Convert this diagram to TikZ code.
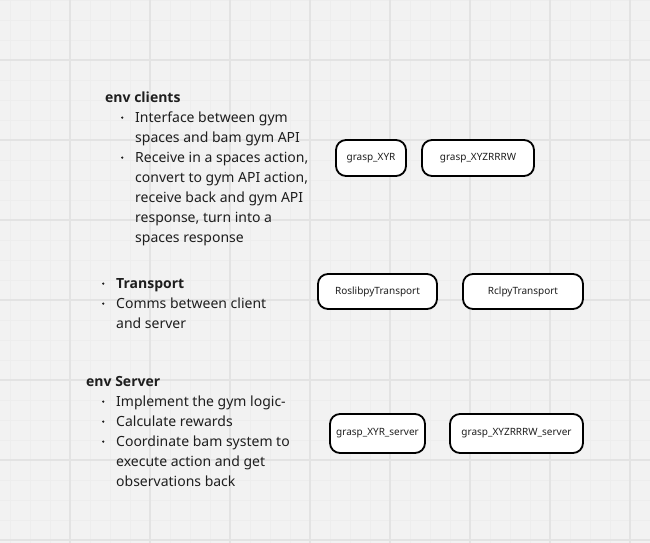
\documentclass[tikz,border=0pt]{standalone}
\usepackage{fontspec}
\setmainfont{Noto Sans}
\newfontfamily\hfont{Open Sans}
\definecolor{bgc}{HTML}{F2F2F2}
\definecolor{gridc}{HTML}{E3E3E3}
\definecolor{gridm}{HTML}{EDEDED}
\definecolor{txtc}{HTML}{1E1E1E}
\newcommand\bdot{\makebox[0pt][c]{\raisebox{3.2pt}{\tikz\fill[txtc] (0,0) circle (1.2pt);}}}
\newcommand\bline[1]{\hspace{#1}\bdot\hspace{13pt}}
\newcommand\contline[1]{\hspace{#1}\hspace{13pt}}
\newcommand\hd[1]{{\hfont\bfseries #1}}
\tikzset{
  block/.style={anchor=base west, inner sep=0pt, align=left, text=txtc,
    font=\fontsize{14}{20}\selectfont},
  box/.style={draw=black, line width=1.8pt, rounded corners=10pt, fill=white,
    text=txtc, font=\fontsize{10}{12}\selectfont, inner sep=0pt}
}
\begin{document}
\begin{tikzpicture}[x=1pt,y=-1pt]
\useasboundingbox (0,0) rectangle (650,543);
\fill[bgc] (0,0) rectangle (650,543);
% minor grid
\foreach \x in {10,30,...,650} \draw[gridm, line width=0.9pt] (\x,0) -- (\x,543);
\foreach \y in {0,20,...,543} \draw[gridm, line width=0.9pt] (0,\y) -- (650,\y);
% major grid
\foreach \x in {70,150,...,650} \draw[gridc, line width=1.3pt] (\x,0) -- (\x,543);
\foreach \y in {60,140,...,543} \draw[gridc, line width=1.3pt] (0,\y) -- (650,\y);

\node[block] (clients) at (105,242) {\hd{env clients}\\
\bline{17pt}Interface between gym\\
\contline{17pt}spaces and bam gym API\\
\bline{17pt}Receive in a spaces action,\\
\contline{17pt}convert to gym API action,\\
\contline{17pt}receive back and gym API\\
\contline{17pt}response, turn into a\\
\contline{17pt}spaces response};

\node[block] (transport) at (103,328) {\bline{0pt}\hd{Transport}\\
\bline{0pt}Comms between client\\
\contline{0pt}and server};

\node[block] (server) at (86,486) {\hd{env Server}\\
\bline{17pt}Implement the gym logic-\\
\bline{17pt}Calculate rewards\\
\bline{17pt}Coordinate bam system to\\
\contline{17pt}execute action and get\\
\contline{17pt}observations back};

\node[box, minimum width=70pt, minimum height=36pt] (xyr) at (371,158) {grasp\_XYR};
\node[box, minimum width=112pt, minimum height=36pt] (xyz) at (478,158) {grasp\_XYZRRRW};
\node[box, minimum width=119pt, minimum height=35pt] (roslib) at (377.5,291.5) {RoslibpyTransport};
\node[box, minimum width=120pt, minimum height=35pt] (rclpy) at (523,291.5) {RclpyTransport};
\node[box, minimum width=95pt, minimum height=39pt] (xyrs) at (377.5,433.5) {grasp\_XYR\_server};
\node[box, minimum width=133pt, minimum height=39pt] (xyzs) at (516.5,433.5) {grasp\_XYZRRRW\_server};
\end{tikzpicture}
\end{document}
